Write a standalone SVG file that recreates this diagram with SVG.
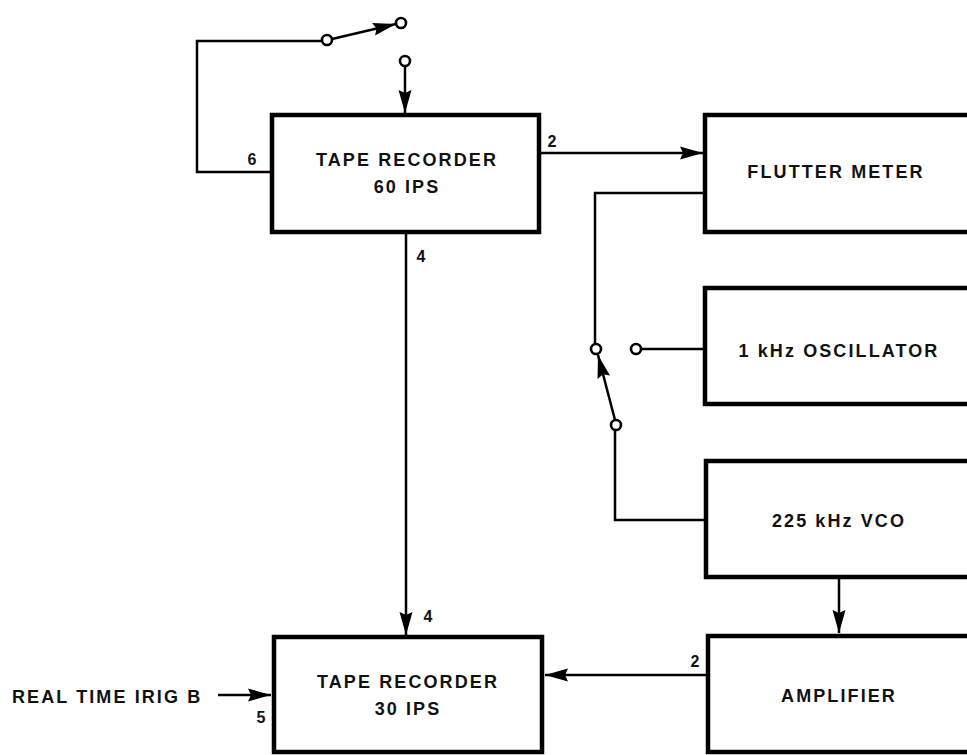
<svg xmlns="http://www.w3.org/2000/svg" width="967" height="755" viewBox="0 0 967 755">
<style>
.box{fill:#fff;stroke:#000;stroke-width:4.5}
.w{fill:none;stroke:#000;stroke-width:2.5}
.c{fill:#fff;stroke:#000;stroke-width:2.6}
.t{font-family:"Liberation Sans",Arial,sans-serif;font-weight:bold;font-size:18px;letter-spacing:2.1px;text-anchor:middle;fill:#111}
.n{font-family:"Liberation Sans",Arial,sans-serif;font-weight:bold;font-size:16px;text-anchor:middle;fill:#111}
</style>
<defs>
<marker id="ah" markerUnits="userSpaceOnUse" markerWidth="24" markerHeight="14" refX="23" refY="7" orient="auto">
<path d="M0,0.5 L23,7 L0,13.5 L3,7 Z" fill="#000"/>
</marker>
</defs>
<rect width="967" height="755" fill="#fff"/>
<g id="connectors">
<path class="w" d="M322,41 H197 V172 H271"/>
<line class="w" x1="332" y1="39" x2="396" y2="24" marker-end="url(#ah)"/>
<line class="w" x1="405" y1="66" x2="405" y2="113" marker-end="url(#ah)"/>
<line class="w" x1="540" y1="153" x2="703" y2="153" marker-end="url(#ah)"/>
<line class="w" x1="406" y1="233" x2="406" y2="635" marker-end="url(#ah)"/>
<path class="w" d="M704,193 H595 V344"/>
<line class="w" x1="641" y1="349" x2="705" y2="349"/>
<line class="w" x1="615" y1="420" x2="598" y2="355" marker-end="url(#ah)"/>
<path class="w" d="M615,430 V520 H705"/>
<line class="w" x1="839" y1="578" x2="839" y2="633" marker-end="url(#ah)"/>
<line class="w" x1="707" y1="675" x2="545" y2="675" marker-end="url(#ah)"/>
<line class="w" x1="218" y1="695" x2="271" y2="695" marker-end="url(#ah)"/>
<circle class="c" cx="327" cy="40" r="5"/>
<circle class="c" cx="401" cy="23" r="5"/>
<circle class="c" cx="405" cy="61" r="5"/>
<circle class="c" cx="596" cy="349" r="5"/>
<circle class="c" cx="636" cy="349" r="5"/>
<circle class="c" cx="616" cy="425" r="5"/>
<text class="n" x="252" y="165">6</text>
<text class="n" x="552" y="147">2</text>
<text class="n" x="421" y="262">4</text>
<text class="n" x="428" y="622">4</text>
<text class="n" x="695" y="667">2</text>
<text class="n" x="261" y="723">5</text>
</g>
<g id="tape60">
<rect class="box" x="272" y="115" width="267" height="117"/>
<text class="t" x="407" y="166">TAPE RECORDER</text>
<text class="t" x="407" y="193">60 IPS</text>
</g>
<g id="flutter">
<rect class="box" x="705" y="115" width="300" height="117"/>
<text class="t" x="836" y="178">FLUTTER METER</text>
</g>
<g id="osc">
<rect class="box" x="705" y="288" width="300" height="116"/>
<text class="t" x="839" y="357">1 kHz OSCILLATOR</text>
</g>
<g id="vco">
<rect class="box" x="706" y="461" width="300" height="116"/>
<text class="t" x="839" y="527">225 kHz VCO</text>
</g>
<g id="amp">
<rect class="box" x="708" y="636" width="300" height="116"/>
<text class="t" x="839" y="702">AMPLIFIER</text>
</g>
<g id="tape30">
<rect class="box" x="274" y="637" width="268" height="115"/>
<text class="t" x="408" y="688">TAPE RECORDER</text>
<text class="t" x="408" y="715">30 IPS</text>
</g>
<g id="irig">
<text class="t" x="12" y="703" style="text-anchor:start">REAL TIME IRIG B</text>
</g>
</svg>
